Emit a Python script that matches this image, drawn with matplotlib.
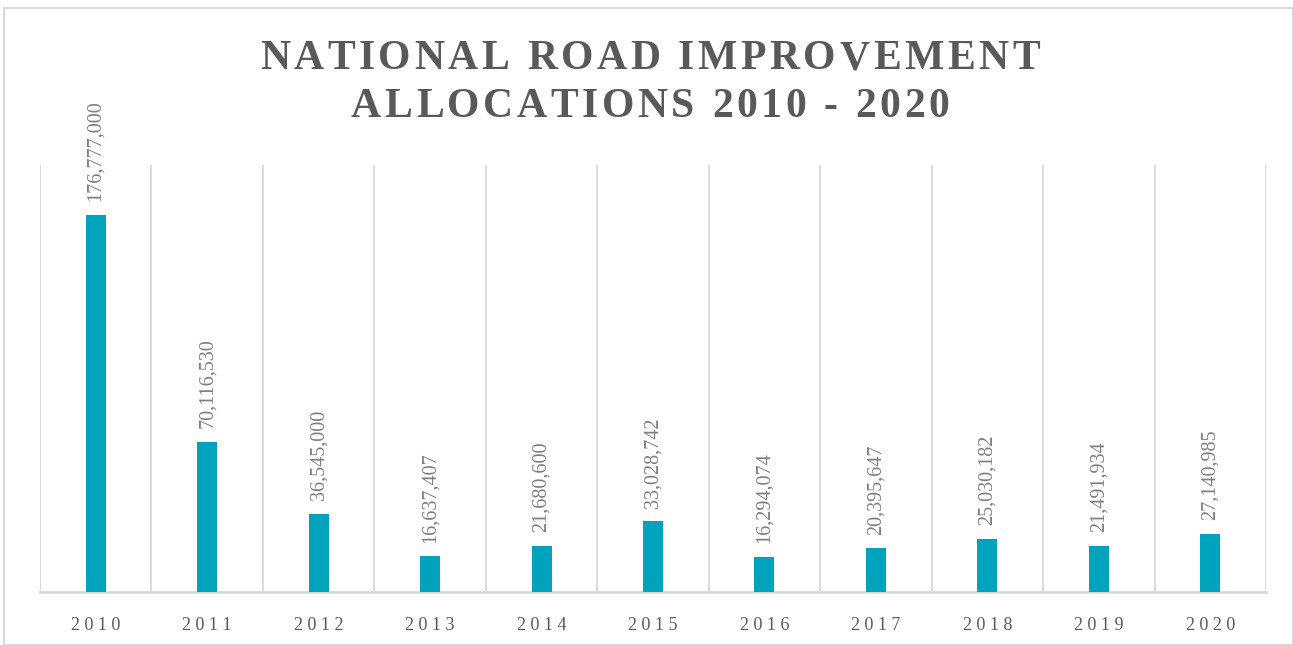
import matplotlib
matplotlib.use("Agg")
import matplotlib.pyplot as plt
from matplotlib.patches import Rectangle
import numpy as np

years = ["2010", "2011", "2012", "2013", "2014", "2015", "2016", "2017", "2018", "2019", "2020"]
allocations = [176777000, 70116530, 36545000, 16637407, 21680600, 33028742,
               16294074, 20395647, 25030182, 21491934, 27140985]
title_lines = ["NATIONAL ROAD IMPROVEMENT", "ALLOCATIONS 2010 - 2020"]

W, H = 1293, 645
fig = plt.figure(figsize=(W / 100, H / 100), dpi=100)
fig.patch.set_facecolor("white")
fig.patches.append(Rectangle((4 / W, 0), (W - 4) / W, (H - 8) / H, transform=fig.transFigure,
                             fill=False, edgecolor="#d9d9d9", linewidth=1.5))

ax = fig.add_axes([40 / W, 1 - 592 / H, (1266 - 40) / W, (592 - 165) / H])
x = np.arange(len(years))
ax.bar(x, allocations, width=0.18, color="#00A3BC", zorder=3)
ax.set_xlim(-0.5, len(years) - 0.5)
ax.set_ylim(0, 200000000)

for b in np.arange(-0.5, len(years), 1.0):
    ax.axvline(b, color="#d9d9d9", linewidth=1.3, zorder=1)

for spine in ["top", "right", "left"]:
    ax.spines[spine].set_visible(False)
ax.spines["bottom"].set_color("#d9d9d9")
ax.spines["bottom"].set_linewidth(2)
ax.set_yticks([])
ax.set_xticks(x)
ax.set_xticklabels([" ".join(y) for y in years], fontfamily="Liberation Serif",
                   fontsize=13, color="#595959")
ax.tick_params(axis="x", length=0, pad=18)

for xi, v in zip(x, allocations):
    ax.annotate(f"{v:,}", (xi, v), xytext=(0, 10), textcoords="offset points",
                rotation=90, ha="center", va="bottom", fontfamily="Liberation Serif",
                fontsize=14.5, color="#7f7f7f")

# letter-spaced title
renderer = fig.canvas.get_renderer()
tracking = 3.6  # px between characters
title_kw = dict(fontfamily="Liberation Serif", fontweight="bold", fontsize=30, color="#595959")
for line, yc in zip(title_lines, [59, 107]):
    widths = []
    for ch in line:
        t = fig.text(0, 0, ch if ch != " " else "\u00a0", **title_kw)
        widths.append(t.get_window_extent(renderer).width)
        t.remove()
    total = sum(widths) + tracking * (len(line) - 1)
    xpos = 650 - total / 2
    for ch, w in zip(line, widths):
        if ch != " ":
            fig.text(xpos / W, 1 - yc / H, ch, ha="left", va="center", **title_kw)
        xpos += w + tracking

fig.savefig("out.png", dpi=100, facecolor="white")
